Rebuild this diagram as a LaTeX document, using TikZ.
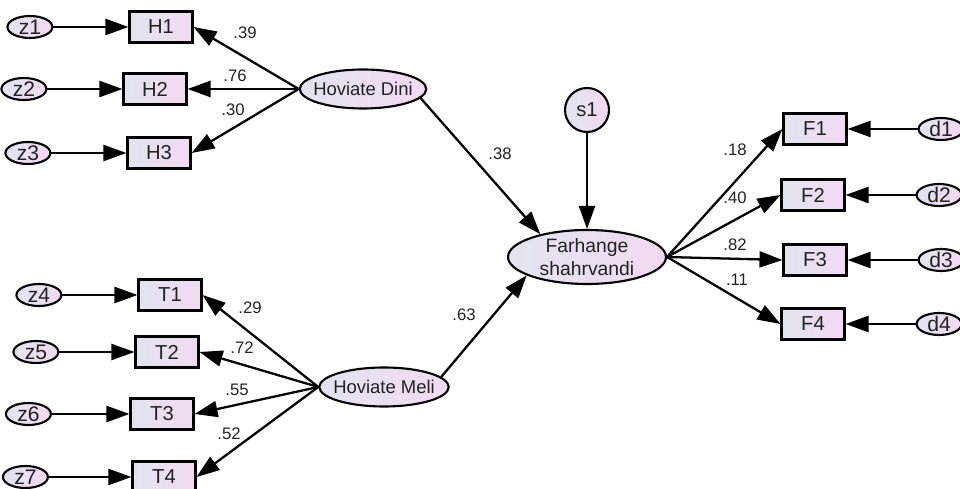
\documentclass[tikz,border=0pt]{standalone}
\usepackage{fontspec}
\setmainfont{Liberation Sans}
\usetikzlibrary{shapes.geometric,arrows.meta,positioning}
\definecolor{shadeL}{HTML}{E2E4F0}
\definecolor{shadeR}{HTML}{F2DAF2}
\definecolor{ink}{HTML}{222222}

\begin{document}
\begin{tikzpicture}[
		x=0.02cm, y=-0.02cm,
		obs/.style={draw, line width=1.2pt, rectangle, left color=shadeL, right color=shadeR, minimum width=1.26cm, minimum height=0.62cm, inner sep=0pt, text=ink, font=\fontsize{11.5}{13}\selectfont},
		err/.style={draw, line width=1.2pt, ellipse, left color=shadeL, right color=shadeR, minimum width=0.9cm, minimum height=0.44cm, inner sep=0pt, text=ink, font=\fontsize{12}{13}\selectfont},
		latent/.style={draw, line width=1.2pt, ellipse, left color=shadeL, right color=shadeR, minimum width=2.46cm, minimum height=0.78cm, inner xsep=-0.1cm, inner ysep=0pt, text=ink, font=\fontsize{10.5}{12}\selectfont},
		resid/.style={draw, line width=1.2pt, circle, left color=shadeL, right color=shadeR, minimum size=0.88cm, inner sep=0pt, text=ink, font=\fontsize{11.5}{13}\selectfont},
		> = {Triangle[length=4.6mm, width=3.2mm]},
		conn/.style={->, line width=1.3pt},
		coef/.style={inner sep=1pt, text=ink, font=\fontsize{9.5}{11}\selectfont}
		]
		\useasboundingbox (0,0) rectangle (960,489);
		% latent variables
		\node[latent] at (363,89) (HD) {Hoviate Dini};
		\node[latent, minimum width=2.5cm] at (384,387) (HM) {Hoviate Meli};
		\node[latent, minimum width=3.16cm, minimum height=1.08cm, inner xsep=0pt, align=center, font=\fontsize{11}{13}\selectfont] at (587,257) (FS) {Farhange\\shahrvandi};
		\node[resid] at (587,110) (s1) {s1};
		
		% indicators
		\node[obs] at (161,27) (H1) {H1};
		\node[obs] at (155,89) (H2) {H2};
		\node[obs] at (159,153) (H3) {H3};
		\node[obs] at (170,295) (T1) {T1};
		\node[obs] at (167,352) (T2) {T2};
		\node[obs] at (162,414) (T3) {T3};
		\node[obs] at (164,477) (T4) {T4};
		\node[obs] at (815,129) (F1) {F1};
		\node[obs] at (813,195) (F2) {F2};
		\node[obs] at (815,260) (F3) {F3};
		\node[obs] at (813,324) (F4) {F4};
		
		% errors
		\node[err, left=1.5cm of H1] (z1) {z1};
		\node[err, left=1.5cm of H2] (z2) {z2};
		\node[err, left=1.5cm of H3] (z3) {z3};
		\node[err, left=1.5cm of T1] (z4) {z4};
		\node[err, left=1.5cm of T2] (z5) {z5};
		\node[err, left=1.55cm of T3] (z6) {z6};
		\node[err, left=1.65cm of T4] (z7) {z7};
		\node[err, right=1.4cm of F1] (d1) {d1};
		\node[err, right=1.4cm of F2] (d2) {d2};
		\node[err, right=1.4cm of F3] (d3) {d3};
		\node[err, right=1.4cm of F4] (d4) {d4};
		
		% Draw the paths
		\path[conn]
		(z1) edge (H1)
		(z2) edge (H2)
		(z3) edge (H3)
		(z4) edge (T1)
		(z5) edge (T2)
		(z6) edge (T3)
		(z7) edge (T4)
		(d1) edge (F1)
		(d2) edge (F2)
		(d3) edge (F3)
		(d4) edge (F4)
		(HD.west) edge (H1.east)
		(HD.west) edge (H2.east)
		(HD.west) edge (H3.east)
		(HM.west) edge (T1.east)
		(HM.west) edge (T2.east)
		(HM.west) edge (T3.east)
		(HM.west) edge (T4.east)
		(HD.-9) edge (FS.154)
		(HM.10) edge (FS.197)
		(s1) edge (FS)
		(FS.east) edge (F1.west)
		(FS.east) edge (F2.west)
		(FS.east) edge (F3.west)
		(FS.east) edge (F4.west);
		
		% coefficients
		\node[coef] at (245,33) (c39) {.39};
		\node[coef] at (235,76) (c76) {.76};
		\node[coef] at (233,110) (c30) {.30};
		\node[coef] at (500,154) (c38) {.38};
		\node[coef] at (464,315) (c63) {.63};
		\node[coef] at (250,308) (c29) {.29};
		\node[coef] at (242,348) (c72) {.72};
		\node[coef] at (237,390) (c55) {.55};
		\node[coef] at (229,434) (c52) {.52};
		\node[coef] at (735,150) (c18) {.18};
		\node[coef] at (735,198) (c40) {.40};
		\node[coef] at (735,245) (c82) {.82};
		\node[coef] at (737,280) (c11) {.11};
	\end{tikzpicture}
\end{document}
